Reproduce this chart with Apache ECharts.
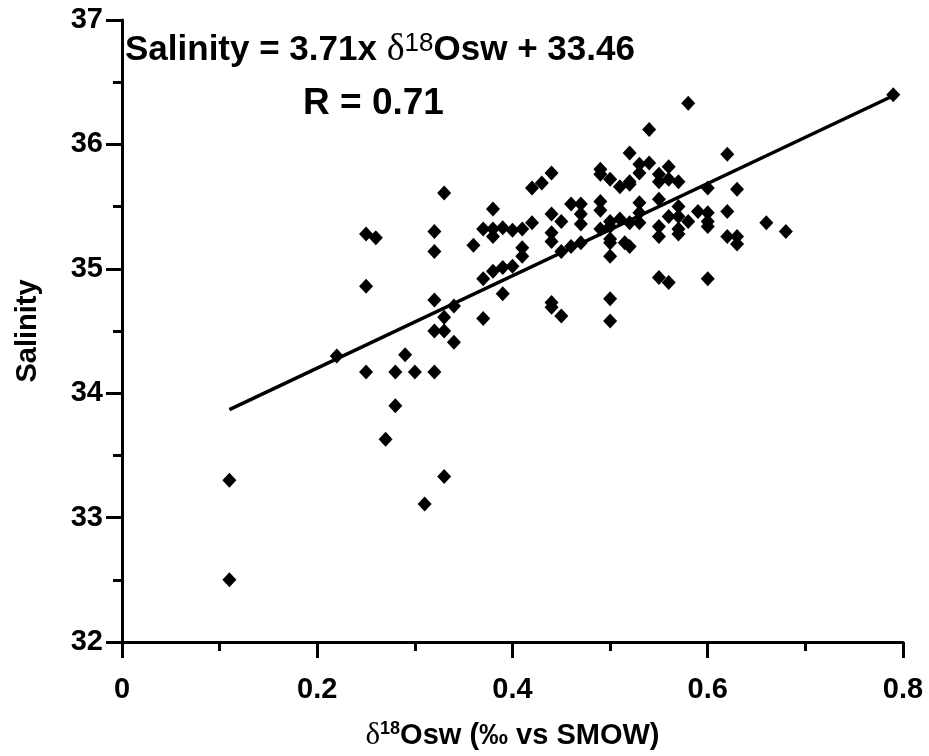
<!DOCTYPE html>
<html><head><meta charset="utf-8">
<script src="https://cdn.jsdelivr.net/npm/echarts@6/dist/echarts.min.js"></script>
<style>html,body{margin:0;padding:0;background:#fff}#c{width:929px;height:756px}</style>
</head><body><div id="c"></div>
<script>
// δ18Osw (‰ vs SMOW)
const d18O = [
  0.11, 0.11, 0.22, 0.25, 0.26, 0.25, 0.25, 0.27, 0.28, 0.28,
  0.29, 0.30, 0.31, 0.33, 0.32, 0.32, 0.32, 0.32, 0.32, 0.33,
  0.33, 0.33, 0.34, 0.34, 0.36, 0.37, 0.37, 0.38, 0.39, 0.39,
  0.40, 0.38, 0.37, 0.38, 0.39, 0.40, 0.41, 0.42, 0.38, 0.41,
  0.41, 0.42, 0.43, 0.44, 0.44, 0.45, 0.44, 0.44, 0.45, 0.46,
  0.47, 0.46, 0.47, 0.47, 0.47, 0.44, 0.44, 0.45, 0.49, 0.49,
  0.50, 0.51, 0.52, 0.52, 0.54, 0.53, 0.54, 0.53, 0.52, 0.56,
  0.55, 0.56, 0.57, 0.55, 0.58, 0.62, 0.60, 0.63, 0.49, 0.49,
  0.49, 0.50, 0.50, 0.50, 0.50, 0.50, 0.515, 0.52, 0.51, 0.52,
  0.53, 0.53, 0.53, 0.55, 0.55, 0.55, 0.57, 0.57, 0.57, 0.57,
  0.59, 0.60, 0.60, 0.60, 0.62, 0.62, 0.63, 0.63, 0.66, 0.68,
  0.50, 0.50, 0.55, 0.56, 0.60, 0.79, 0.58, 0.56
];
// Salinity
const salinity = [
  32.50, 33.30, 34.30, 35.28, 35.25, 34.86, 34.17, 33.63, 33.90, 34.17,
  34.31, 34.17, 33.11, 33.33, 35.30, 35.14, 34.75, 34.50, 34.17, 35.61,
  34.61, 34.50, 34.41, 34.70, 35.19, 34.60, 34.92, 34.98, 34.80, 35.01,
  35.02, 35.48, 35.32, 35.32, 35.33, 35.31, 35.32, 35.37, 35.26, 35.17,
  35.10, 35.65, 35.69, 35.77, 35.44, 35.38, 35.29, 35.22, 35.14, 35.18,
  35.21, 35.52, 35.52, 35.44, 35.36, 34.73, 34.69, 34.62, 35.80, 35.76,
  35.72, 35.66, 35.68, 35.93, 36.12, 35.84, 35.85, 35.77, 35.70, 35.82,
  35.76, 35.72, 35.70, 35.70, 36.33, 35.92, 35.65, 35.64, 35.54, 35.47,
  35.32, 35.38, 35.34, 35.24, 35.10, 35.21, 35.21, 35.18, 35.40, 35.37,
  35.53, 35.45, 35.37, 35.56, 35.34, 35.26, 35.50, 35.42, 35.32, 35.28,
  35.46, 35.45, 35.38, 35.34, 35.46, 35.26, 35.26, 35.20, 35.37, 35.30,
  34.76, 34.58, 34.93, 34.89, 34.92, 36.40, 35.38, 35.42
];
// Regression
const slope = 3.71;
const intercept = 33.46;
const fitRange = [0.11, 0.79];
const rValue = '0.71';

const FONT = "'Liberation Sans', Arial, sans-serif";
const SERIF = "'Liberation Serif', 'DejaVu Serif', serif";

const chart = echarts.init(document.getElementById('c'), null, {renderer: 'canvas'});

const richTitle = {
  b: {fontFamily: FONT, fontWeight: 'bold', fontSize: 35, color: '#000'},
  d: {fontFamily: SERIF, fontWeight: 'normal', fontSize: 38, color: '#000'},
  s: {fontFamily: FONT, fontWeight: 'normal', fontSize: 26, color: '#000', verticalAlign: 'top'}
};
const richR = {
  b: {fontFamily: FONT, fontWeight: 'bold', fontSize: 37, color: '#000'}
};
const richName = {
  b: {fontFamily: FONT, fontWeight: 'bold', fontSize: 29, color: '#000'},
  d: {fontFamily: SERIF, fontWeight: 'normal', fontSize: 31, color: '#000'},
  s: {fontFamily: FONT, fontWeight: 'bold', fontSize: 18, color: '#000', verticalAlign: 'top'}
};

const axisCommon = {
  type: 'value',
  axisLine: {show: true, lineStyle: {color: '#000', width: 3}},
  axisTick: {show: true, length: 16, lineStyle: {color: '#000', width: 3}},
  minorTick: {show: true, splitNumber: 2, length: 9, lineStyle: {color: '#000', width: 3}},
  splitLine: {show: false},
  minorSplitLine: {show: false}
};

const option = {
  animation: false,
  backgroundColor: '#fff',
  title: [
    {
      text: `{b|Salinity = ${slope}x }{d|δ}{s|18}{b|Osw + ${intercept}}`,
      left: 120, top: 26,
      textStyle: {rich: richTitle}
    },
    {
      text: `{b|R = ${rValue}}`,
      left: 298, top: 80,
      textStyle: {rich: richR}
    }
  ],
  grid: {left: 122, right: 26, top: 20, bottom: 112},
  xAxis: Object.assign({}, axisCommon, {
    min: 0, max: 0.8, interval: 0.2,
    axisLabel: {color: '#000', fontFamily: FONT, fontWeight: 'bold', fontSize: 29, margin: 33},
    name: '{d|δ}{s|18}{b|Osw (‰ vs SMOW)}',
    nameLocation: 'middle', nameGap: 78,
    nameTextStyle: {rich: richName}
  }),
  yAxis: Object.assign({}, axisCommon, {
    min: 32, max: 37, interval: 1,
    axisLabel: {color: '#000', fontFamily: FONT, fontWeight: 'bold', fontSize: 29, margin: 19},
    name: 'Salinity',
    nameLocation: 'middle', nameGap: 80,
    nameTextStyle: {color: '#000', fontFamily: FONT, fontWeight: 'bold', fontSize: 29}
  }),
  series: [
    {
      type: 'scatter',
      data: d18O.map((x, i) => [x, salinity[i]]),
      symbol: 'diamond',
      symbolSize: [14, 15],
      itemStyle: {color: '#000', opacity: 1},
      z: 3
    },
    {
      type: 'line',
      data: fitRange.map(x => [x, intercept + slope * x]),
      symbol: 'none',
      lineStyle: {color: '#000', width: 3.5},
      z: 2
    }
  ]
};
chart.setOption(option);
</script>
</body></html>
